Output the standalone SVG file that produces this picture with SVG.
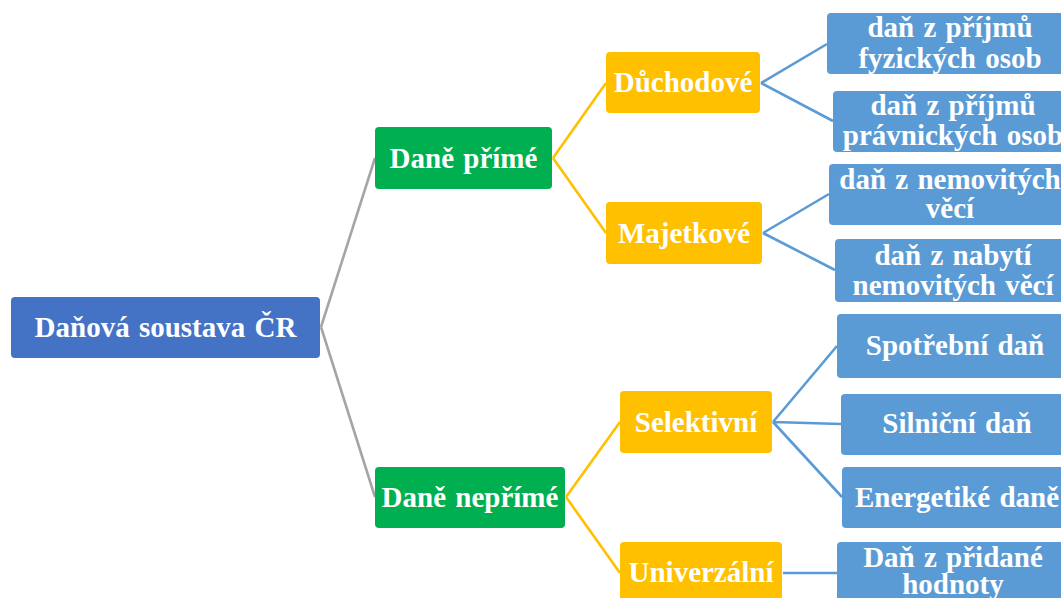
<svg xmlns="http://www.w3.org/2000/svg" width="1061" height="598" viewBox="0 0 1061 598">
<style>
.t{font-family:"Liberation Serif","Times New Roman",serif;font-weight:bold;font-size:29px;fill:#fff;text-anchor:middle;word-spacing:2px}
.root{fill:#4472C4}
.g{fill:#00B050}
.y{fill:#FFC000}
.b{fill:#5B9BD5}
.c{fill:none;stroke-width:2.6}
.cg{stroke:#A5A5A5}
.cy{stroke:#FFC000}
.cb{stroke:#5B9BD5}
</style>
<rect width="1061" height="598" fill="#fff"/>
<g id="connectors">
<path class="c cg" d="M321 327 L375 158 M321 327 L375 497"/>
<path class="c cy" d="M553 158 L606 83 M553 158 L606 233 M566 497 L620 422 M566 497 L620 573"/>
<path class="c cb" d="M761 83 L827 44 M761 83 L833 121 M763 233 L829 194 M763 233 L835 270 M773 422 L837 346 M773 422 L841 424 M773 422 L842 497 M783 573 L837 573"/>
</g>
<g id="root"><rect class="root" x="11" y="297" width="309" height="61" rx="4"/><text class="t" x="165.5" y="337">Daňová soustava ČR</text></g>
<g id="dane-prime"><rect class="g" x="375" y="127" width="177" height="62" rx="4"/><text class="t" x="463.5" y="168">Daně přímé</text></g>
<g id="dane-neprime"><rect class="g" x="375" y="467" width="190" height="61" rx="4"/><text class="t" x="470" y="507">Daně nepřímé</text></g>
<g id="duchodove"><rect class="y" x="606" y="52" width="154" height="61" rx="4"/><text class="t" x="683" y="92">Důchodové</text></g>
<g id="majetkove"><rect class="y" x="606" y="202" width="156" height="62" rx="4"/><text class="t" x="684" y="243">Majetkové</text></g>
<g id="selektivni"><rect class="y" x="620" y="391" width="152" height="62" rx="4"/><text class="t" x="696" y="432">Selektivní</text></g>
<g id="univerzalni"><rect class="y" x="620" y="542" width="162" height="62" rx="4"/><text class="t" x="701" y="582">Univerzální</text></g>
<g id="dpfo"><rect class="b" x="827" y="13" width="246" height="61" rx="4"/><text class="t" x="950" y="37">daň z příjmů</text><text class="t" x="950" y="68">fyzických osob</text></g>
<g id="dppo"><rect class="b" x="833" y="91" width="240" height="61" rx="4"/><text class="t" x="953" y="115">daň z příjmů</text><text class="t" x="953" y="145">právnických osob</text></g>
<g id="dnv"><rect class="b" x="829" y="164" width="242" height="61" rx="4"/><text class="t" x="950" y="189">daň z nemovitých</text><text class="t" x="950" y="218">věcí</text></g>
<g id="dnnv"><rect class="b" x="835" y="239" width="236" height="63" rx="4"/><text class="t" x="953" y="265">daň z nabytí</text><text class="t" x="953" y="295">nemovitých věcí</text></g>
<g id="spotrebni"><rect class="b" x="837" y="314" width="236" height="64" rx="4"/><text class="t" x="955" y="355">Spotřební daň</text></g>
<g id="silnicni"><rect class="b" x="841" y="394" width="232" height="61" rx="4"/><text class="t" x="957" y="433">Silniční daň</text></g>
<g id="energeticke"><rect class="b" x="842" y="467" width="231" height="61" rx="4"/><text class="t" x="957" y="507">Energetiké daně</text></g>
<g id="dph"><rect class="b" x="837" y="542" width="232" height="62" rx="4"/><text class="t" x="953" y="567">Daň z přidané</text><text class="t" x="953" y="594">hodnoty</text></g>
</svg>
